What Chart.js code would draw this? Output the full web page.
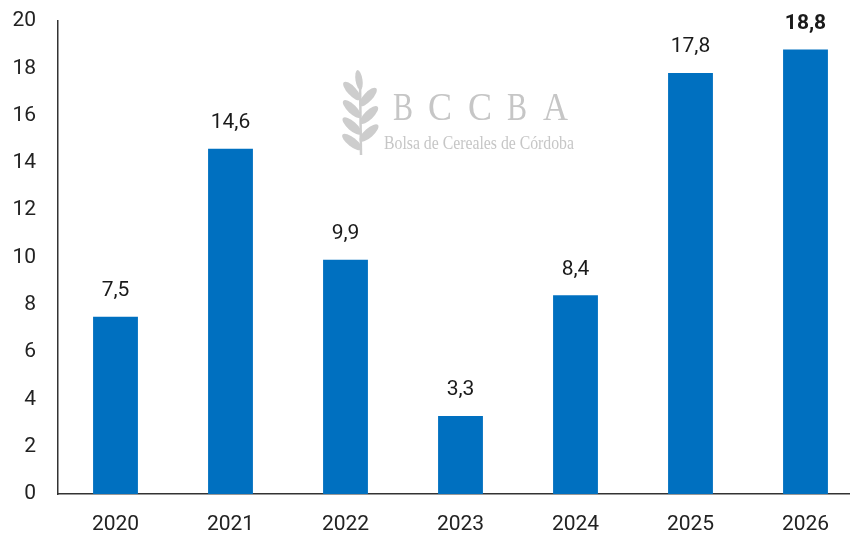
<!doctype html>
<html lang="es">
<head>
<meta charset="utf-8">
<title>BCCBA</title>
<script src="https://cdn.jsdelivr.net/npm/chart.js"></script>
<style>
  html, body { margin: 0; padding: 0; background: #fff; overflow: hidden; }
  .wrap { width: 870px; height: 537px; }
</style>
</head>
<body>
<div class="wrap"><canvas id="myChart_Bar"></canvas></div>
<script>
  // datos
  const years = ['2020', '2021', '2022', '2023', '2024', '2025', '2026'];
  const values = [7.5, 14.6, 9.9, 3.3, 8.4, 17.8, 18.8];
  const boldLabels = [false, false, false, false, false, false, true];

  const fontFamily = 'Roboto, "Liberation Sans", sans-serif';

  // texto escalado a un ancho fijo
  function fitText(ctx, text, x, y, width) {
    const w = ctx.measureText(text).width;
    ctx.save();
    ctx.translate(x, y);
    ctx.scale(width / w, 1);
    ctx.fillText(text, 0, 0);
    ctx.restore();
  }

  // logo de fondo (marca de agua)
  const watermark = {
    id: 'watermark',
    beforeDatasetsDraw(chart) {
      const ctx = chart.ctx;
      ctx.save();
      ctx.fillStyle = '#cdcdcd';
      ctx.strokeStyle = '#cdcdcd';
      // espiga
      const sx = 360;
      ctx.lineWidth = 2.5;
      ctx.beginPath();
      ctx.moveTo(sx + 1, 155);
      ctx.lineTo(sx, 80);
      ctx.stroke();
      // punta
      ctx.beginPath();
      ctx.ellipse(sx - 1, 80, 3.5, 10, -0.15, 0, Math.PI * 2);
      ctx.fill();
      const leaves = [
        [sx - 8, 91, -0.75], [sx + 8, 97, 0.75],
        [sx - 8, 109, -0.8], [sx + 9, 115, 0.8],
        [sx - 8, 126, -0.85], [sx + 9, 133, 0.85],
        [sx - 8, 142, -0.9]
      ];
      leaves.forEach(function(l){
        ctx.beginPath();
        ctx.ellipse(l[0], l[1], 4.5, 12, l[2], 0, Math.PI * 2);
        ctx.fill();
      });
      // texto
      ctx.fillStyle = '#c6c6c6';
      ctx.textBaseline = 'alphabetic';
      ctx.textAlign = 'left';
      ctx.font = '40px "Liberation Serif", "DejaVu Serif", serif';
      const letters = [['B', 393, 20], ['C', 428, 24], ['C', 468, 24], ['B', 507, 20], ['A', 543, 25]];
      letters.forEach(function(l){
        fitText(ctx, l[0], l[1], 120, l[2]);
      });
      ctx.font = '18px "Liberation Serif", "DejaVu Serif", serif';
      fitText(ctx, 'Bolsa de Cereales de Córdoba', 384, 149, 190);
      ctx.restore();
    }
  };

  // etiquetas de valores
  const valueLabels = {
    id: 'valueLabels',
    afterDatasetsDraw(chart) {
      const ctx = chart.ctx;
      const meta = chart.getDatasetMeta(0);
      ctx.save();
      ctx.fillStyle = '#1a1a1a';
      ctx.textAlign = 'center';
      ctx.textBaseline = 'middle';
      meta.data.forEach(function(bar, i){
        ctx.font = (boldLabels[i] ? 'bold ' : '') + '21px ' + fontFamily;
        ctx.fillText(values[i].toFixed(1).replace('.', ','), bar.x, bar.y - 26);
      });
      ctx.restore();
    }
  };

  const data = {
    labels: years,
    datasets: [{
      data: values,
      backgroundColor: '#0070C0',
      barPercentage: 0.39,
      categoryPercentage: 1.0
    }]
  };

  const config = {
    type: 'bar',
    data: data,
    options: {
      responsive: false,
      animation: false,
      layout: { padding: { top: 21, right: 7, left: 0, bottom: 0 } },
      plugins: { legend: { display: false }, tooltip: { enabled: false } },
      scales: {
        x: {
          grid: { display: false, drawTicks: false },
          border: { display: true, color: '#333', width: 1.5 },
          ticks: { color: '#222', padding: 18, font: { size: 21, family: fontFamily } },
          afterFit: function(scale){
            scale.height = 43;
            scale.paddingLeft = 0;
            scale.paddingRight = 0;
          }
        },
        y: {
          min: 0,
          max: 20,
          grid: { display: false, drawTicks: false },
          border: { display: true, color: '#333', width: 1.5 },
          ticks: { stepSize: 2, color: '#222', padding: 22, font: { size: 21, family: fontFamily } },
          afterFit: function(scale){
            scale.width = 58;
            scale.paddingTop = 0;
            scale.paddingBottom = 0;
          }
        }
      }
    },
    plugins: [watermark, valueLabels]
  };

  const canvas = document.getElementById('myChart_Bar');
  canvas.width = 870;
  canvas.height = 537;
  new Chart(canvas, config);
</script>
</body>
</html>
